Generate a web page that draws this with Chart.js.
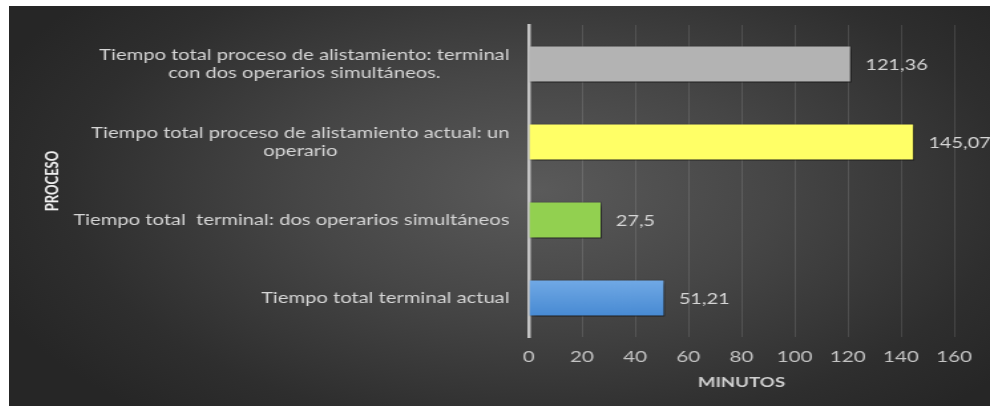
<!DOCTYPE html>
<html>
<head>
<meta charset="utf-8">
<script src="https://cdn.jsdelivr.net/npm/chart.js@4"></script>
<style>
  html, body { margin: 0; padding: 0; background: #fff; }
  #chart {
    position: absolute; left: 9px; top: 6px;
    background: radial-gradient(ellipse 60% 75% at 54% 46%, #5a5a5a 0%, #464646 40%, #2e2e2e 80%, #262626 100%);
  }
</style>
</head>
<body>
<!-- drawn at 738 wide and stretched to 981 so the lettering comes out wide -->
<canvas id="chart" width="738" height="400" style="width:981px;height:400px"></canvas>
<script>
const procesos = [
  ['Tiempo total proceso de alistamiento: terminal', 'con dos operarios simultáneos.'],
  ['Tiempo total proceso de alistamiento actual: un', 'operario'],
  ['Tiempo total  terminal: dos operarios simultáneos'],
  ['Tiempo total terminal actual']
];
const minutos = [121.36, 145.07, 27.5, 51.21];
const colores = ['#b3b3b3', '#ffff66', '#92d050', '#5b9bd5'];
const xTicks = [0, 20, 40, 60, 80, 100, 120, 140, 160];

const FONT = 'Lato, "Open Sans", sans-serif';

function barColor(c) {
  const chart = c.chart;
  if (c.dataIndex !== 3 || !chart.chartArea) return colores[c.dataIndex];
  const y = chart.scales.y.getPixelForValue(c.dataIndex);
  const g = chart.ctx.createLinearGradient(0, y - 19, 0, y + 19);
  g.addColorStop(0, '#72aae6');
  g.addColorStop(1, '#4689d2');
  return g;
}

// drop shadow under the bars
const barShadow = {
  id: 'barShadow',
  beforeDatasetsDraw(chart) {
    const ctx = chart.ctx;
    ctx.save();
    ctx.shadowColor = 'rgba(0,0,0,0.55)';
    ctx.shadowBlur = 4;
    ctx.shadowOffsetX = 2;
    ctx.shadowOffsetY = 3;
  },
  afterDatasetsDraw(chart) {
    chart.ctx.restore();
  }
};

// category names (lines centred within a right-aligned block) and value labels
const textLabels = {
  id: 'textLabels',
  afterDraw(chart) {
    const ctx = chart.ctx;
    const yScale = chart.scales.y;
    const xScale = chart.scales.x;
    ctx.save();
    ctx.textBaseline = 'middle';
    ctx.fillStyle = '#d6d6d6';
    ctx.font = '15.2px ' + FONT;
    procesos.forEach((lines, i) => {
      const y = yScale.getPixelForValue(i);
      const w = Math.max(...lines.map(l => ctx.measureText(l).width));
      const cx = yScale.right - 14.5 - w / 2;
      const lh = 18;
      ctx.textAlign = 'center';
      lines.forEach((l, k) => {
        ctx.fillText(l, cx, y + (k - (lines.length - 1) / 2) * lh);
      });
    });
    ctx.font = '15px ' + FONT;
    ctx.textAlign = 'left';
    minutos.forEach((v, i) => {
      const x = xScale.getPixelForValue(v) + 10.5;
      const y = yScale.getPixelForValue(i) + 1;
      ctx.fillText(String(v).replace('.', ','), x, y);
    });
    ctx.restore();
  }
};

new Chart(document.getElementById('chart'), {
  type: 'bar',
  data: {
    labels: procesos,
    datasets: [{
      data: minutos,
      backgroundColor: barColor,
      borderColor: 'rgba(0,0,0,0.15)',
      borderWidth: 1,
      categoryPercentage: 1,
      barPercentage: 0.475
    }]
  },
  options: {
    indexAxis: 'y',
    responsive: false,
    animation: false,
    devicePixelRatio: 1,
    layout: { padding: { top: 19, right: 27, left: 0, bottom: 0 } },
    plugins: { legend: { display: false }, tooltip: { enabled: false } },
    scales: {
      x: {
        min: 0, max: 160,
        afterBuildTicks: s => { s.ticks = xTicks.map(v => ({ value: v })); },
        afterFit: s => { s.height = 69; },
        grid: { color: 'rgba(255,255,255,0.12)', drawTicks: false },
        border: { display: false },
        ticks: { color: '#c4c4c4', font: { family: FONT, size: 15.5 }, padding: 11 },
        title: {
          display: true, text: 'MINUTOS', color: '#d0d0d0',
          font: { family: FONT, size: 14, weight: 'bold' },
          padding: { top: 4, bottom: 15.6 }
        }
      },
      y: {
        afterFit: s => { s.width = 391; },
        grid: { display: false },
        border: { display: true, color: '#c4c4c4', width: 2.5 },
        ticks: { display: false },
        title: {
          display: true, text: 'PROCESO', color: '#f0f0f0',
          font: { family: FONT, size: 13, weight: 'bold' },
          padding: { top: 25.2, bottom: 0 }
        }
      }
    }
  },
  plugins: [barShadow, textLabels]
});
</script>
</body>
</html>
